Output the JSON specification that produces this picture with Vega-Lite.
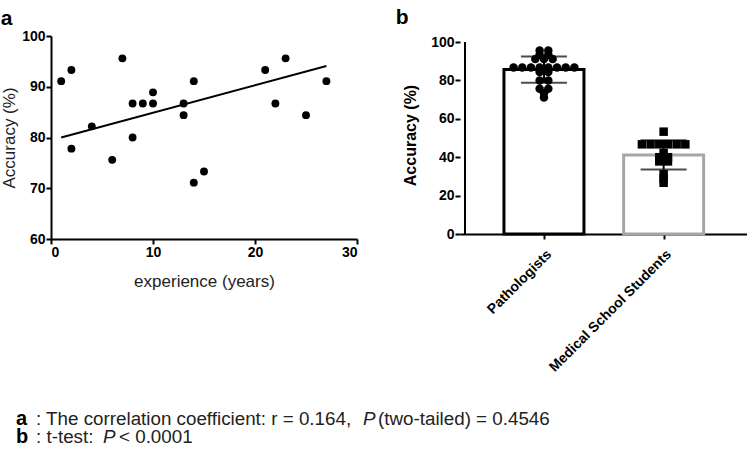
{
  "$schema": "https://vega.github.io/schema/vega-lite/v6.json",
  "padding": {"left": 0, "top": 6, "right": 0, "bottom": 0},
  "background": "white",
  "config": {
    "font": "Liberation Sans",
    "view": {"stroke": null},
    "axis": {
      "grid": false,
      "domainColor": "black",
      "domainWidth": 2,
      "tickColor": "black",
      "tickWidth": 2,
      "tickSize": 5,
      "labelColor": "black",
      "labelFontWeight": "bold",
      "labelFontSize": 14,
      "labelPadding": 1,
      "titleColor": "#222222",
      "titleFontWeight": "normal",
      "titleFontSize": 17
    },
    "title": {"anchor": "start", "frame": "bounds", "fontSize": 21, "fontWeight": "bold", "color": "black"}
  },
  "datasets": {
    "scatter": [
      {"experience": 1, "accuracy": 91.1},
      {"experience": 2, "accuracy": 93.3},
      {"experience": 2, "accuracy": 77.8},
      {"experience": 4, "accuracy": 82.2},
      {"experience": 6, "accuracy": 75.6},
      {"experience": 7, "accuracy": 95.6},
      {"experience": 8, "accuracy": 86.7},
      {"experience": 8, "accuracy": 80.0},
      {"experience": 9, "accuracy": 86.7},
      {"experience": 10, "accuracy": 86.7},
      {"experience": 10, "accuracy": 88.9},
      {"experience": 13, "accuracy": 86.7},
      {"experience": 13, "accuracy": 84.4},
      {"experience": 14, "accuracy": 91.1},
      {"experience": 14, "accuracy": 71.1},
      {"experience": 15, "accuracy": 73.3},
      {"experience": 21, "accuracy": 93.3},
      {"experience": 22, "accuracy": 86.7},
      {"experience": 23, "accuracy": 95.6},
      {"experience": 25, "accuracy": 84.4},
      {"experience": 27, "accuracy": 91.1}
    ],
    "fit": [
      {"experience": 1, "accuracy": 80.0},
      {"experience": 27, "accuracy": 94.1}
    ],
    "groups": [
      {"group": "Pathologists", "accuracy": 95.6},
      {"group": "Pathologists", "accuracy": 95.6},
      {"group": "Pathologists", "accuracy": 93.3},
      {"group": "Pathologists", "accuracy": 93.3},
      {"group": "Pathologists", "accuracy": 91.1},
      {"group": "Pathologists", "accuracy": 91.1},
      {"group": "Pathologists", "accuracy": 91.1},
      {"group": "Pathologists", "accuracy": 86.7},
      {"group": "Pathologists", "accuracy": 86.7},
      {"group": "Pathologists", "accuracy": 86.7},
      {"group": "Pathologists", "accuracy": 86.7},
      {"group": "Pathologists", "accuracy": 86.7},
      {"group": "Pathologists", "accuracy": 86.7},
      {"group": "Pathologists", "accuracy": 86.7},
      {"group": "Pathologists", "accuracy": 86.7},
      {"group": "Pathologists", "accuracy": 84.4},
      {"group": "Pathologists", "accuracy": 84.4},
      {"group": "Pathologists", "accuracy": 80.0},
      {"group": "Pathologists", "accuracy": 80.0},
      {"group": "Pathologists", "accuracy": 75.6},
      {"group": "Pathologists", "accuracy": 75.6},
      {"group": "Pathologists", "accuracy": 73.3},
      {"group": "Pathologists", "accuracy": 71.1},
      {"group": "Medical School Students", "accuracy": 53.3},
      {"group": "Medical School Students", "accuracy": 46.7},
      {"group": "Medical School Students", "accuracy": 46.7},
      {"group": "Medical School Students", "accuracy": 46.7},
      {"group": "Medical School Students", "accuracy": 46.7},
      {"group": "Medical School Students", "accuracy": 46.7},
      {"group": "Medical School Students", "accuracy": 46.7},
      {"group": "Medical School Students", "accuracy": 42.2},
      {"group": "Medical School Students", "accuracy": 40.0},
      {"group": "Medical School Students", "accuracy": 40.0},
      {"group": "Medical School Students", "accuracy": 37.8},
      {"group": "Medical School Students", "accuracy": 37.8},
      {"group": "Medical School Students", "accuracy": 31.1},
      {"group": "Medical School Students", "accuracy": 28.9},
      {"group": "Medical School Students", "accuracy": 26.7}
    ],
    "notes": [
      {"line": 1, "label": "a", "pre": ": The correlation coefficient: r = 0.164,", "p": "P", "post": "(two-tailed) = 0.4546"},
      {"line": 2, "label": "b", "pre": ": t-test:", "p": "P", "post": "< 0.0001"}
    ]
  },
  "vconcat": [
    {
      "hconcat": [
        {
          "title": {"text": "a", "offset": 0},
          "width": 306,
          "height": 203,
          "layer": [
            {
              "data": {"name": "scatter"},
              "mark": {"type": "circle", "size": 62, "color": "black", "opacity": 1},
              "encoding": {
                "x": {"field": "experience", "type": "quantitative", "scale": {"domain": [0, 30]},
                      "axis": {"values": [0, 10, 20, 30], "title": "experience (years)", "titlePadding": 14}},
                "y": {"field": "accuracy", "type": "quantitative", "scale": {"domain": [60, 100]},
                      "axis": {"values": [60, 70, 80, 90, 100], "title": "Accuracy (%)", "titlePadding": 3}}
              }
            },
            {
              "data": {"name": "fit"},
              "mark": {"type": "line", "color": "black", "strokeWidth": 2},
              "encoding": {
                "x": {"field": "experience", "type": "quantitative"},
                "y": {"field": "accuracy", "type": "quantitative"}
              }
            }
          ]
        },
        {
          "title": {"text": "b", "offset": 7, "dx": -7},
          "width": 290,
          "height": 198,
          "data": {"name": "groups"},
          "transform": [
            {"calculate": "datum.group == 'Pathologists' ? 1 : 2", "as": "pos"}
          ],
          "encoding": {
            "x": {"field": "pos", "type": "quantitative",
                  "scale": {"domain": [0.34, 2.68], "nice": false, "zero": false},
                  "axis": {"values": [1, 2], "labelAngle": -45, "title": null, "labelFontSize": 14, "labelPadding": 8,
                           "labelExpr": "datum.value == 1 ? 'Pathologists' : 'Medical School Students'"}}
          },
          "layer": [
            {
              "mark": {"type": "bar", "width": 80, "fill": "white", "strokeWidth": 3},
              "encoding": {
                "y": {"aggregate": "mean", "field": "accuracy", "type": "quantitative",
                      "scale": {"domain": [0, 103.125], "nice": false},
                      "axis": {"values": [0, 20, 40, 60, 80, 100], "domain": false, "title": "Accuracy (%)", "titleFontWeight": "bold", "titleFontSize": 16, "titleColor": "black", "titlePadding": 12}},
                "stroke": {"field": "group", "type": "nominal",
                           "scale": {"domain": ["Pathologists", "Medical School Students"], "range": ["black", "#a6a6a6"]},
                           "legend": null}
              }
            },
            {
              "transform": [
                {"window": [{"op": "row_number", "as": "k"}, {"op": "count", "as": "n"}], "groupby": ["group", "accuracy"], "frame": [null, null]},
                {"calculate": "datum.pos + (datum.k - (datum.n + 1) / 2) * 9 / 124", "as": "px"}
              ],
              "mark": {"type": "point", "filled": true, "size": 72, "color": "black", "opacity": 1},
              "encoding": {
                "x": {"field": "px", "type": "quantitative"},
                "y": {"field": "accuracy", "type": "quantitative",
                      "axis": {"values": [0, 20, 40, 60, 80, 100], "domain": false, "title": "Accuracy (%)", "titleFontWeight": "bold", "titleFontSize": 16, "titleColor": "black", "titlePadding": 12}},
                "shape": {"field": "group", "type": "nominal",
                          "scale": {"domain": ["Pathologists", "Medical School Students"], "range": ["circle", "square"]},
                          "legend": null}
              }
            },
            {
              "mark": {"type": "errorbar", "extent": "stdev", "orient": "vertical", "color": "black", "thickness": 2,
                       "ticks": {"size": 46, "thickness": 2, "color": "black"}},
              "encoding": {
                "y": {"field": "accuracy", "type": "quantitative",
                      "axis": {"values": [0, 20, 40, 60, 80, 100], "domain": false, "title": "Accuracy (%)", "titleFontWeight": "bold", "titleFontSize": 16, "titleColor": "black", "titlePadding": 12}}
              }
            },
            {
              "mark": {"type": "rule", "color": "black", "strokeWidth": 2},
              "encoding": {
                "x": {"datum": 0.34, "type": "quantitative"},
                "y": {"datum": 0, "type": "quantitative",
                      "axis": {"values": [0, 20, 40, 60, 80, 100], "domain": false, "title": "Accuracy (%)", "titleFontWeight": "bold", "titleFontSize": 16, "titleColor": "black", "titlePadding": 12}},
                "y2": {"datum": 100}
              }
            }
          ]
        }
      ],
      "spacing": 37
    },
    {
      "width": 500,
      "height": 36,
      "data": {"name": "notes"},
      "encoding": {
        "y": {"field": "line", "type": "ordinal", "scale": {"type": "point", "padding": 0.5}, "axis": null},
        "x": {"datum": 0, "type": "quantitative", "scale": {"domain": [0, 1]}, "axis": null}
      },
      "layer": [
        {
          "mark": {"type": "text", "align": "left", "baseline": "alphabetic", "fontSize": 20, "fontWeight": "bold", "color": "black", "dx": -35},
          "encoding": {"text": {"field": "label"}}
        },
        {
          "mark": {"type": "text", "align": "left", "baseline": "alphabetic", "fontSize": 18.8, "color": "#222222", "dx": -15},
          "encoding": {"text": {"field": "pre"}}
        },
        {
          "transform": [{"filter": "datum.line == 1"}],
          "mark": {"type": "text", "align": "left", "baseline": "alphabetic", "fontSize": 18.8, "fontStyle": "italic", "color": "#222222", "dx": 312},
          "encoding": {"text": {"field": "p"}}
        },
        {
          "transform": [{"filter": "datum.line == 1"}],
          "mark": {"type": "text", "align": "left", "baseline": "alphabetic", "fontSize": 18.8, "color": "#222222", "dx": 327},
          "encoding": {"text": {"field": "post"}}
        },
        {
          "transform": [{"filter": "datum.line == 2"}],
          "mark": {"type": "text", "align": "left", "baseline": "alphabetic", "fontSize": 18.8, "fontStyle": "italic", "color": "#222222", "dx": 52},
          "encoding": {"text": {"field": "p"}}
        },
        {
          "transform": [{"filter": "datum.line == 2"}],
          "mark": {"type": "text", "align": "left", "baseline": "alphabetic", "fontSize": 18.8, "color": "#222222", "dx": 68},
          "encoding": {"text": {"field": "post"}}
        }
      ]
    }
  ],
  "spacing": 34
}
